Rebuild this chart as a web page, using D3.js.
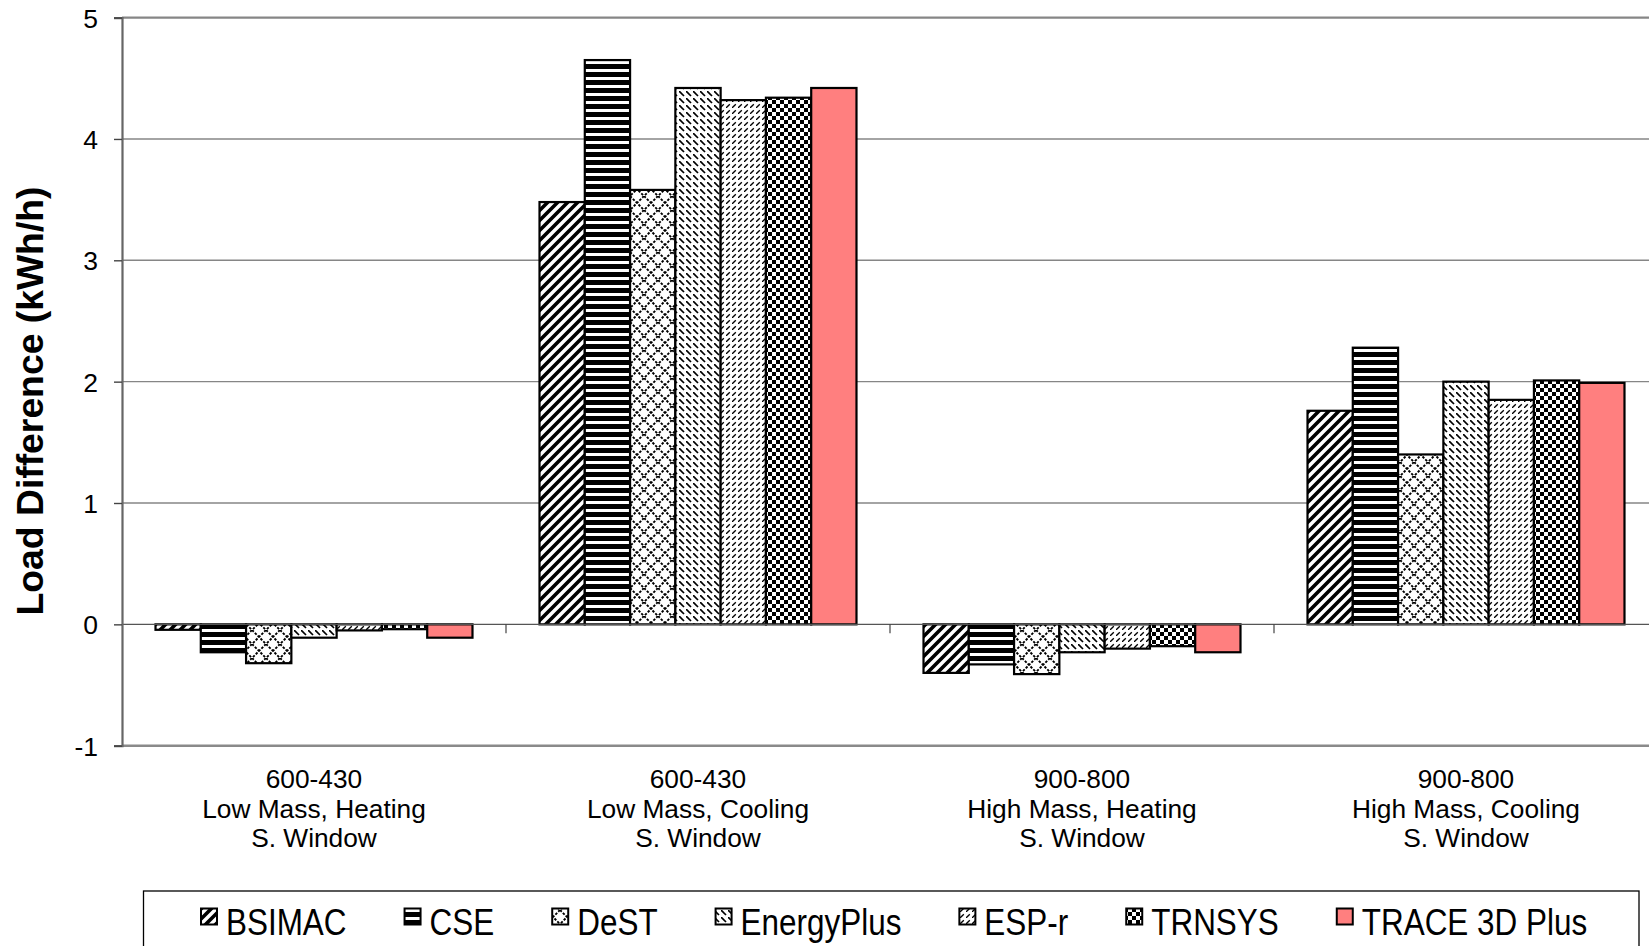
<!DOCTYPE html>
<html><head><meta charset="utf-8">
<script src="https://cdn.jsdelivr.net/npm/d3@7"></script>
<style>
body{margin:0;background:#fff}
svg{display:block}
text{font-family:"Liberation Sans",Arial,Helvetica,sans-serif;fill:#000}
</style>
</head><body>
<svg id="c" width="1649" height="946"></svg>
<script>
// ---------- data ----------
const categories = [
  "600-430|Low Mass, Heating|S. Window",
  "600-430|Low Mass, Cooling|S. Window",
  "900-800|High Mass, Heating|S. Window",
  "900-800|High Mass, Cooling|S. Window"
];
const seriesNames = ["BSIMAC","CSE","DeST","EnergyPlus","ESP-r","TRNSYS","TRACE 3D Plus"];
const bsimac     = [-0.045, 3.48, -0.40, 1.76];
const cse        = [-0.23,  4.65, -0.33, 2.28];
const dest       = [-0.32,  3.58, -0.41, 1.40];
const energyPlus = [-0.11,  4.42, -0.23, 2.00];
const espr       = [-0.05,  4.32, -0.20, 1.85];
const trnsys     = [-0.04,  4.34, -0.18, 2.01];
const trace3d    = [-0.11,  4.42, -0.23, 1.99];
const yTicks = [-1, 0, 1, 2, 3, 4, 5];
const yTitle = "Load Difference (kWh/h)";

const seriesValues = [bsimac, cse, dest, energyPlus, espr, trnsys, trace3d];
const patternIds = ["pBSIMAC","pCSE","pDeST","pEP","pESPr","pTRNSYS",null];

// ---------- layout ----------
const svg = d3.select("#c");
const plotL = 122, plotR = 1658, plotT = 17.6, plotB = 745.7;

const x = d3.scaleBand().domain(categories).range([plotL, plotR]).padding(0);
const xs = d3.scaleBand().domain(seriesNames).range([0, x.bandwidth()]).paddingInner(0).paddingOuter(0.74);
const y = d3.scaleLinear().domain([-1, 5]).range([plotB, plotT]);

// ---------- patterns ----------
const defs = svg.append("defs");
function pat(id, w, h) {
  return defs.append("pattern").attr("id", id).attr("patternUnits","userSpaceOnUse")
    .attr("width", w).attr("height", h);
}
let p;
// wide upward diagonal
p = pat("pBSIMAC", 10, 10);
p.append("rect").attr("width",10).attr("height",10).attr("fill","#fff");
p.append("path").attr("d","M-3,3 L3,-3 M0,10 L10,0 M7,13 L13,7").attr("stroke","#000").attr("stroke-width",3.6);
// dark horizontal
p = pat("pCSE", 8, 8);
p.append("rect").attr("width",8).attr("height",8).attr("fill","#fff");
p.append("rect").attr("width",8).attr("height",5).attr("fill","#000");
// diamond lattice
p = pat("pDeST", 14, 14);
p.append("rect").attr("width",14).attr("height",14).attr("fill","#fff");
p.append("path").attr("d","M0,0 L14,14 M14,0 L0,14").attr("stroke","#000").attr("stroke-width",1.9).attr("stroke-dasharray","2.5,1.5");
// dashed downward diagonal
p = pat("pEP", 7, 7);
p.append("rect").attr("width",7).attr("height",7).attr("fill","#fff");
p.append("path").attr("d","M0,0 L5,5").attr("stroke","#000").attr("stroke-width",1.7);
// dashed upward diagonal (lighter)
p = pat("pESPr", 6, 6);
p.append("rect").attr("width",6).attr("height",6).attr("fill","#fff");
p.append("path").attr("d","M0,6 L3.8,2.2").attr("stroke","#000").attr("stroke-width",1.3);
// checker board
p = pat("pTRNSYS", 8, 8);
p.append("rect").attr("width",8).attr("height",8).attr("fill","#fff");
p.append("rect").attr("x",0).attr("y",0).attr("width",4).attr("height",4).attr("fill","#000");
p.append("rect").attr("x",4).attr("y",4).attr("width",4).attr("height",4).attr("fill","#000");

function fillFor(i) { return patternIds[i] ? `url(#${patternIds[i]})` : "#FF7F7F"; }

// ---------- gridlines ----------
svg.append("g").selectAll("line").data(yTicks.filter(d => d > 0)).join("line")
  .attr("x1", plotL).attr("x2", 1649)
  .attr("y1", d => y(d)).attr("y2", d => y(d))
  .attr("stroke", "#868686").attr("stroke-width", d => d === 5 ? 2.2 : 1.4);
svg.append("line").attr("x1", plotL).attr("x2", 1649).attr("y1", y(-1)).attr("y2", y(-1))
  .attr("stroke", "#8a8a8a").attr("stroke-width", 2.4);

// ---------- bars ----------
const barData = [];
categories.forEach((c, ci) => seriesNames.forEach((s, si) => barData.push({c, s, si, v: seriesValues[si][ci]})));
svg.append("g").selectAll("rect").data(barData).join("rect")
  .attr("x", d => x(d.c) + xs(d.s))
  .attr("width", xs.bandwidth())
  .attr("y", d => y(Math.max(0, d.v)))
  .attr("height", d => Math.abs(y(d.v) - y(0)))
  .attr("fill", d => fillFor(d.si))
  .attr("stroke", "#000").attr("stroke-width", 2.2);

// ---------- zero axis ----------
svg.append("line").attr("x1", plotL).attr("x2", 1649).attr("y1", y(0)).attr("y2", y(0))
  .attr("stroke", "#555").attr("stroke-width", 1.2);
const xAxis = d3.axisBottom(x).tickSize(9).tickFormat("");
const gx = svg.append("g").attr("transform", `translate(0,${y(0)})`).call(xAxis);
gx.select(".domain").remove();
gx.selectAll(".tick").attr("transform", d => `translate(${x(d) + x.bandwidth()},0)`);
gx.selectAll(".tick line").attr("stroke", "#444").attr("stroke-width", 1.2);

// ---------- y axis ----------
const yAxis = d3.axisLeft(y).tickValues(yTicks).tickSize(8).tickPadding(16).tickFormat(d => String(d));
const gy = svg.append("g").attr("transform", `translate(${plotL},0)`).call(yAxis);
gy.select(".domain").attr("stroke", "#666").attr("stroke-width", 2.2);
gy.selectAll(".tick line").attr("stroke", "#444").attr("stroke-width", 1.4);
gy.selectAll(".tick text").attr("font-size", 26.5).attr("font-family", '"Liberation Sans",Arial,sans-serif').attr("dy", "0.36em");

svg.append("text").attr("transform", "translate(43,401) rotate(-90)")
  .attr("text-anchor", "middle").attr("font-size", 37.3).attr("font-weight", "bold").text(yTitle);

// ---------- category labels ----------
const cl = svg.append("g").selectAll("text").data(categories).join("text")
  .attr("text-anchor", "middle").attr("font-size", 26.3)
  .attr("x", d => x(d) + x.bandwidth() / 2).attr("y", 788);
cl.selectAll("tspan").data(d => d.split("|")).join("tspan")
  .attr("x", function() { return this.parentNode.getAttribute("x"); })
  .attr("dy", (d, i) => i === 0 ? 0 : 29.5).text(d => d);

// ---------- legend ----------
svg.append("rect").attr("x", 143.5).attr("y", 891).attr("width", 1495.5).attr("height", 120)
  .attr("fill", "#fff").attr("stroke", "#000").attr("stroke-width", 1.3);
const lg = svg.append("g");
let lx = 201;
const hScale = 0.85;
seriesNames.forEach((s, i) => {
  lg.append("rect").attr("x", lx).attr("y", 908.5).attr("width", 16).attr("height", 16)
    .attr("fill", fillFor(i)).attr("stroke", "#000").attr("stroke-width", 2);
  const t = lg.append("text").attr("font-size", 37)
    .attr("transform", `translate(${lx + 25},935) scale(${hScale},1)`).text(s);
  const w = t.node().getComputedTextLength() * hScale;
  lx += 25 + w + 58;
});
</script>
</body></html>
